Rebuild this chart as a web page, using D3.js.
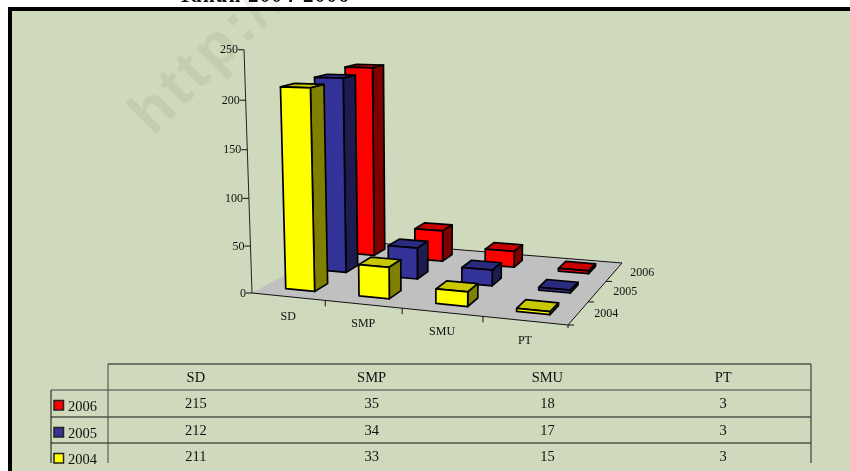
<!DOCTYPE html>
<html>
<head>
<meta charset="utf-8">
<script src="https://cdn.jsdelivr.net/npm/d3@7"></script>
<style>
  html, body { margin: 0; padding: 0; background: #fff; overflow: hidden; }
  text { font-family: "Liberation Serif", serif; fill: #111; }
</style>
</head>
<body>
<div id="chart"></div>
<script>
const categories = ["SD", "SMP", "SMU", "PT"];
const years = ["2006", "2005", "2004"]; // back to front
const values2006 = [215, 35, 18, 3];
const values2005 = [212, 34, 17, 3];
const values2004 = [211, 33, 15, 3];
const valueTicks = [0, 50, 100, 150, 200, 250];

const seriesValues = { "2006": values2006, "2005": values2005, "2004": values2004 };
const faceColors = {
    "2006": { front: "#ff0000", side: "#800000", top: "#c80000" },
    "2005": { front: "#333399", side: "#1c1c50", top: "#2a2a80" },
    "2004": { front: "#ffff00", side: "#808000", top: "#c8c800" }
};

const W = 850, H = 471;
const svg = d3.select("#chart").append("svg").attr("width", W).attr("height", H);

// frame
svg.append("rect").attr("x", 8).attr("y", 7).attr("width", W).attr("height", H).attr("fill", "#000");
svg.append("rect").attr("x", 12).attr("y", 11).attr("width", W).attr("height", H).attr("fill", "#cfd9bb");

// title, cut by the top of the page
svg.append("text").attr("x", 178).attr("y", 2)
    .style("font-size", "21px").style("font-weight", "bold").style("letter-spacing", "1.2px")
    .text("Tahun 2004-2006");

// watermark
svg.append("text")
    .attr("transform", "translate(153,137) rotate(-45)")
    .style("font-family", "'Liberation Sans', sans-serif")
    .style("font-size", "60px").style("font-weight", "bold").style("letter-spacing", "4px")
    .style("fill", "#f0f1f0").style("mix-blend-mode", "multiply")
    .text("http://");

// floor homography, unit square -> screen
const floorFL = [252, 293], floorFR = [568, 325], floorBR = [622, 263], floorBL = [347, 240.6];

function makeHomography(p0, p1, p2, p3) {
    // p0 (0,0), p1 (1,0), p2 (1,1), p3 (0,1)
    const dx1 = p1[0] - p2[0], dx2 = p3[0] - p2[0], sx = p0[0] - p1[0] + p2[0] - p3[0];
    const dy1 = p1[1] - p2[1], dy2 = p3[1] - p2[1], sy = p0[1] - p1[1] + p2[1] - p3[1];
    const den = dx1 * dy2 - dx2 * dy1;
    const g = (sx * dy2 - dx2 * sy) / den;
    const h = (dx1 * sy - sx * dy1) / den;
    return {
        a: p1[0] - p0[0] + g * p1[0], b: p3[0] - p0[0] + h * p3[0], c: p0[0],
        d: p1[1] - p0[1] + g * p1[1], e: p3[1] - p0[1] + h * p3[1], f: p0[1],
        g, h
    };
}
const homo = makeHomography(floorFL, floorFR, floorBR, floorBL);

// verticals lean toward a vanishing point far below the chart
const vanish = [422, 5480];
const heightScale = d3.scaleLinear().domain([0, 250]).range([0, -0.0448]);

function project(u, v, val) {
    const w = homo.g * u + homo.h * v + 1;
    const fx = (homo.a * u + homo.b * v + homo.c) / w;
    const fy = (homo.d * u + homo.e * v + homo.f) / w;
    const t = heightScale(val);
    return [(w * fx + t * vanish[0]) / (w + t), (w * fy + t * vanish[1]) / (w + t)];
}

const xBand = d3.scaleBand().domain(categories).range([0.002, 1.002]).paddingInner(0.6).paddingOuter(0.3);
const zBand = d3.scaleBand().domain(["2004", "2005", "2006"]).range([0.01, 1]).paddingInner(0.6).paddingOuter(0.3);

const line = d3.line();
const face = (pts, fill, sw) => svg.append("path")
    .attr("d", line(pts) + "Z").attr("fill", fill)
    .attr("stroke", "#000").attr("stroke-width", sw || 1.7).attr("stroke-linejoin", "round");

// floor
svg.append("path").attr("d", line([floorFL, floorFR, floorBR, floorBL]) + "Z")
    .attr("fill", "#c0c0c0");
svg.append("path").attr("d", line([floorBL, floorBR, floorFR, floorFL]))
    .attr("fill", "none").attr("stroke", "#111").attr("stroke-width", 1);

// value axis
svg.append("path").attr("d", line([project(0, 0, 0), project(0, 0, 250)]))
    .attr("stroke", "#222").attr("stroke-width", 1).attr("fill", "none");
valueTicks.forEach(t => {
    const p = project(0, 0, t);
    svg.append("line").attr("x1", p[0] - 6).attr("x2", p[0]).attr("y1", p[1]).attr("y2", p[1])
        .attr("stroke", "#111");
    svg.append("text").attr("x", p[0] - 6).attr("y", p[1] + 3.5).attr("text-anchor", "end")
        .style("font-size", "12px").text(t);
});

// category ticks and labels
categories.forEach((c, i) => {
    if (i > 0) {
        const a = project(i / categories.length, 0, 0);
        svg.append("line").attr("x1", a[0]).attr("x2", a[0]).attr("y1", a[1]).attr("y2", a[1] + 6)
            .attr("stroke", "#111");
    }
    const m = project((i + 0.5) / categories.length, 0, 0);
    svg.append("text").attr("x", m[0]).attr("y", m[1] + 23).attr("text-anchor", "middle")
        .style("font-size", "12px").text(c);
});
{
    const a = project(1, 0, 0);
    svg.append("line").attr("x1", a[0]).attr("x2", a[0]).attr("y1", a[1]).attr("y2", a[1] + 3).attr("stroke", "#111");
}

// depth ticks and labels
years.forEach((y, i) => {
    const k = years.length - 1 - i;
    const a = project(1, k / years.length, 0);
    svg.append("line").attr("x1", a[0]).attr("x2", a[0] + 6).attr("y1", a[1]).attr("y2", a[1])
        .attr("stroke", "#111");
    const m = project(1, (k + 0.5) / years.length, 0);
    svg.append("text").attr("x", m[0] + 16).attr("y", m[1] + 4)
        .style("font-size", "12px").text(y);
});

// bars, back row first
years.forEach(y => {
    categories.forEach((c, i) => {
        const v = seriesValues[y][i];
        const u0 = xBand(c), u1 = u0 + xBand.bandwidth();
        const z0 = zBand(y), z1 = z0 + zBand.bandwidth();
        const col = faceColors[y];
        face([project(u0, z0, v), project(u1, z0, v), project(u1, z1, v), project(u0, z1, v)], col.top);
        face([project(u1, z0, 0), project(u1, z1, 0), project(u1, z1, v), project(u1, z0, v)], col.side);
        face([project(u0, z0, 0), project(u1, z0, 0), project(u1, z0, v), project(u0, z0, v)], col.front);
    });
});

// data table
const tableLeft = 108, tableRight = 811, legendLeft = 51;
const rowY = [364, 390, 417, 443, 463];
const colX = d3.scaleBand().domain(categories).range([tableLeft, tableRight]);

const rule = (x1, y1, x2, y2, col, sw) => svg.append("line")
    .attr("x1", x1).attr("y1", y1).attr("x2", x2).attr("y2", y2)
    .attr("stroke", col || "#111").attr("stroke-width", sw || 1);

rule(tableLeft, rowY[0], tableRight, rowY[0]);
rule(legendLeft, rowY[1], tableRight, rowY[1], "#444");
rule(legendLeft, rowY[2], tableRight, rowY[2]);
rule(legendLeft, rowY[3], tableRight, rowY[3]);
rule(legendLeft, rowY[1], legendLeft, rowY[4]);
rule(tableLeft, rowY[0], tableLeft, rowY[4], "#444");
rule(tableRight, rowY[0], tableRight, rowY[4], "#555", 1.4);

categories.forEach(c => {
    svg.append("text").attr("x", colX(c) + colX.bandwidth() / 2).attr("y", rowY[0] + 17.5)
        .attr("text-anchor", "middle").style("font-size", "14.5px").text(c);
});

years.forEach((y, r) => {
    const top = rowY[r + 1];
    svg.append("rect").attr("x", 54).attr("y", top + 10.5).attr("width", 9.5).attr("height", 9.5)
        .attr("fill", faceColors[y].front).attr("stroke", "#222").attr("stroke-width", 1.5);
    svg.append("text").attr("x", 68).attr("y", top + 21).style("font-size", "14.5px").text(y);
    categories.forEach((c, i) => {
        svg.append("text").attr("x", colX(c) + colX.bandwidth() / 2).attr("y", top + 18)
            .attr("text-anchor", "middle").style("font-size", "14.5px").text(seriesValues[y][i]);
    });
});
</script>
</body>
</html>
